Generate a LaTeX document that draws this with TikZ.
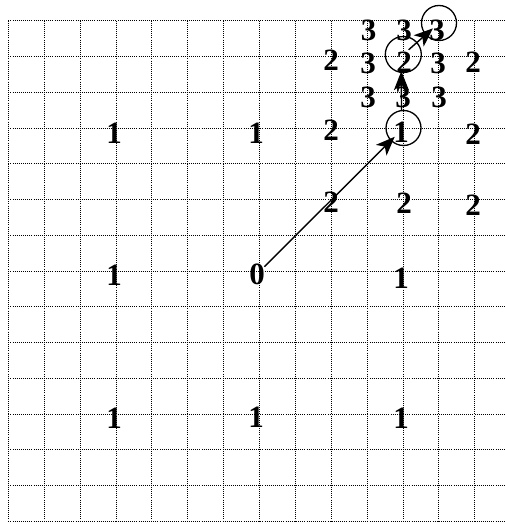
\documentclass[tikz,border=0pt]{standalone}
\usepackage{fontspec}
\setmainfont{Liberation Serif}
\usetikzlibrary{arrows.meta,calc}
\begin{document}
\begin{tikzpicture}[x=1pt,y=-1pt,
  gridline/.style={line width=0.75pt, dash pattern=on 0.75pt off 1.35pt, black},
  num/.style={font=\fontsize{31}{31}\selectfont\bfseries, inner sep=0.5pt},
  ring/.style={draw, circle, line width=1.3pt, minimum size=35pt, inner sep=0pt},
  arr/.style={line width=1.4pt, -{Stealth[length=19pt,width=15pt,inset=5pt]}}]
\useasboundingbox (0,0) rectangle (504,524);
% grid
\foreach \k in {0,...,13}
  \draw[gridline] ({8.3+35.88*\k},20.7) -- ({8.3+35.88*\k},521.3);
\foreach \j in {0,...,14}
  \draw[gridline] (8.3,{20.7+35.76*\j}) -- (504,{20.7+35.76*\j});
% numbers
\node[num] (d0) at (257,274) {0};
\node[num] (d1a) at (114,133) {1};
\node[num] (d1b) at (256,133) {1};
\node[num] (d1c) at (401,132.5) {1};
\node[num] (d1d) at (114,275) {1};
\node[num] (d1e) at (401,278) {1};
\node[num] (d1f) at (114,418) {1};
\node[num] (d1g) at (256,417) {1};
\node[num] (d1h) at (401,418) {1};
\node[num] (d2a) at (331,60) {2};
\node[num] (d2b) at (404,62) {2};
\node[num] (d2c) at (473,62) {2};
\node[num] (d2d) at (331,130) {2};
\node[num] (d2e) at (473,134) {2};
\node[num] (d2f) at (331,202) {2};
\node[num] (d2g) at (404,203) {2};
\node[num] (d2h) at (473,205) {2};
\node[num] (d3a) at (368.5,30) {3};
\node[num] (d3b) at (404,30) {3};
\node[num] (d3c) at (437,30) {3};
\node[num] (d3d) at (368,63) {3};
\node[num] (d3e) at (438,63) {3};
\node[num] (d3f) at (368,97) {3};
\node[num] (d3g) at (403,97) {3};
\node[num] (d3h) at (439,97) {3};
% circles
\node[ring] (c1) at (403.5,128) {};
\node[ring, minimum size=36pt] (c2) at (403.3,54.5) {};
\node[ring] (c3) at (439,23) {};
% arrows
\draw[arr] ($(d0)!0.05!(c1)$) -- ($(d0)!0.94!(c1)$);
\draw[arr] ([xshift=-2pt]c1.north) -- ([xshift=-2pt,yshift=2pt]c2.south);
\draw[arr] ($(c2)!0.15!(c3)$) -- ($(c2)!0.83!(c3)$);
\end{tikzpicture}
\end{document}
